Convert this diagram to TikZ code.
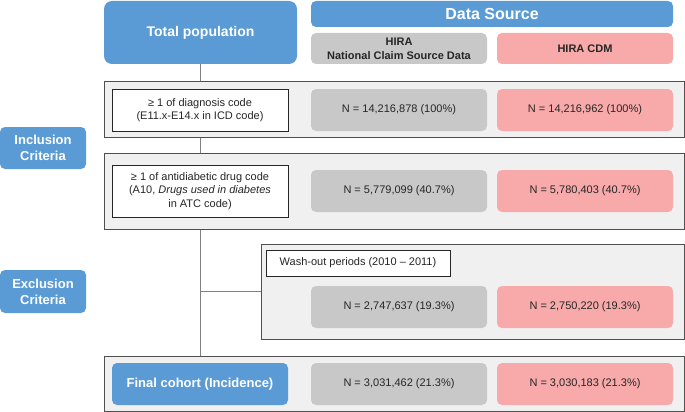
\documentclass[tikz,border=0pt]{standalone}
\usepackage{fontspec}
\setmainfont{Liberation Sans}
\definecolor{boxblue}{HTML}{5B9BD5}
\definecolor{boxgray}{HTML}{C8C8C8}
\definecolor{boxpink}{HTML}{F8A9A9}
\definecolor{panelfill}{HTML}{F0F0F0}
\definecolor{panelline}{HTML}{505050}
\definecolor{linkgray}{HTML}{808080}
\tikzset{
  panel/.style={draw=panelline, fill=panelfill, line width=1pt, inner sep=0pt},
  bluebox/.style={fill=boxblue, rounded corners=6pt, text=white, align=center, inner sep=0pt},
  srcbox/.style={fill=boxgray, rounded corners=5pt, minimum width=176pt, minimum height=42pt,
    inner sep=0pt, text=black!85, align=center, font=\fontsize{11}{14}\selectfont},
  cdmbox/.style={srcbox, fill=boxpink},
  critbox/.style={draw=black!85, fill=white, line width=1pt, inner sep=0pt, align=center,
    text=black!85, font=\fontsize{11}{13.5}\selectfont},
  link/.style={draw=linkgray, line width=0.8pt}
}
\begin{document}
\begin{tikzpicture}[x=1pt,y=-1pt]
  \useasboundingbox (0,0) rectangle (685,412);
  % header
  \node[bluebox, rounded corners=8pt, minimum width=193pt, minimum height=63pt,
    font=\fontsize{14}{16}\selectfont\bfseries] (total) at (200.5,32.5) {Total population};
  \node[bluebox, rounded corners=5pt, minimum width=362pt, minimum height=26pt,
    font=\fontsize{16}{18}\selectfont\bfseries] (datasrc) at (492,14) {Data Source};
  \node[srcbox, minimum height=31pt, font=\fontsize{11}{14}\selectfont\bfseries] (hira) at (399,48.5)
    {HIRA\\National Claim Source Data};
  \node[cdmbox, minimum height=31pt, font=\fontsize{11}{14}\selectfont\bfseries] (cdm) at (585,48.5) {HIRA CDM};
  % panels
  \node[panel, minimum width=580pt, minimum height=56pt] (panel1) at (394,109) {};
  \node[panel, minimum width=580pt, minimum height=76pt] (panel2) at (394,191) {};
  \node[panel, minimum width=423pt, minimum height=95pt] (panel3) at (472.5,291.5) {};
  \node[panel, minimum width=580pt, minimum height=55pt] (panel4) at (394,383.5) {};
  % connectors
  \draw[link] (total.south) -- (total.south |- panel1.north);
  \draw[link] (panel1.south -| total.south) -- (panel2.north -| total.south);
  \draw[link] (panel2.south -| total.south) -- (panel4.north -| total.south);
  \draw[link] (total.south |- panel3.west) -- (panel3.west);
  % criteria labels
  \node[bluebox, rounded corners=5pt, minimum width=86pt, minimum height=42pt,
    font=\fontsize{13}{16}\selectfont\bfseries] (incl) at (43,148) {Inclusion\\Criteria};
  \node[bluebox, rounded corners=5pt, minimum width=86pt, minimum height=43pt,
    font=\fontsize{13}{16}\selectfont\bfseries] (excl) at (43,291.5) {Exclusion\\Criteria};
  % step 1
  \node[critbox, minimum width=176pt, minimum height=42pt] (diag) at (200,110)
    {≥ 1 of diagnosis code\\(E11.x-E14.x in ICD code)};
  \node[srcbox] (n1a) at (399,110) {N = 14,216,878 (100\%)};
  \node[cdmbox] (n1b) at (585,110) {N = 14,216,962 (100\%)};
  % step 2
  \node[critbox, minimum width=176pt, minimum height=52pt] (drug) at (200,191)
    {≥ 1 of antidiabetic drug code\\(A10, \textit{Drugs used in diabetes}\\in ATC code)};
  \node[srcbox] (n2a) at (399,191) {N = 5,779,099 (40.7\%)};
  \node[cdmbox] (n2b) at (585,191) {N = 5,780,403 (40.7\%)};
  % exclusion
  \node[critbox, minimum width=184pt, minimum height=26pt] (washout) at (358,263)
    {Wash-out periods (2010 -- 2011)};
  \node[srcbox] (n3a) at (399,307) {N = 2,747,637 (19.3\%)};
  \node[cdmbox] (n3b) at (585,307) {N = 2,750,220 (19.3\%)};
  % final
  \node[bluebox, rounded corners=5pt, minimum width=176pt, minimum height=42pt,
    font=\fontsize{13}{16}\selectfont\bfseries] (final) at (200,384) {Final cohort (Incidence)};
  \node[srcbox] (n4a) at (399,384) {N = 3,031,462 (21.3\%)};
  \node[cdmbox] (n4b) at (585,384) {N = 3,030,183 (21.3\%)};
\end{tikzpicture}
\end{document}
